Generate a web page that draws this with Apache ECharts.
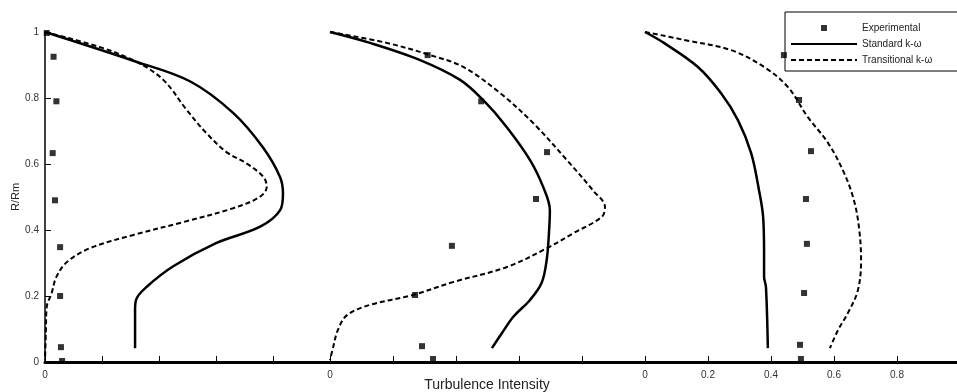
<!DOCTYPE html>
<html>
<head>
<meta charset="utf-8">
<script src="https://cdn.jsdelivr.net/npm/echarts@6/dist/echarts.min.js"></script>
<style>
  html, body { margin: 0; padding: 0; background: #fff; }
  #chart { width: 957px; height: 392px; }
</style>
</head>
<body>
<div id="chart"></div>
<script>
// Turbulence intensity profiles across R/Rm at three stations.
// Each point is [intensity, R/Rm].

const yTicks = [0, 0.2, 0.4, 0.6, 0.8, 1];

// Station 1
const exp1 = [[0.006, 0.997], [0.03, 0.925], [0.04, 0.79], [0.027, 0.633], [0.035, 0.49],
  [0.053, 0.348], [0.053, 0.2], [0.056, 0.045], [0.06, 0.003]];
const std1 = [[0, 1.0], [0.32, 0.91], [0.51, 0.85], [0.66, 0.755], [0.765, 0.65], [0.825, 0.56],
  [0.835, 0.51], [0.825, 0.46], [0.755, 0.41], [0.6, 0.36], [0.45, 0.29], [0.357, 0.228],
  [0.32, 0.19], [0.316, 0.158], [0.316, 0.042]];
const trn1 = [[0, 1.0], [0.19, 0.955], [0.32, 0.91], [0.415, 0.855], [0.497, 0.764], [0.567, 0.693],
  [0.637, 0.636], [0.707, 0.602], [0.767, 0.56], [0.778, 0.53], [0.753, 0.5], [0.66, 0.466],
  [0.485, 0.424], [0.31, 0.385], [0.158, 0.345], [0.077, 0.303], [0.04, 0.258], [0.023, 0.208],
  [0.006, 0.167], [0.003, 0.088], [0, 0.006]];

// Station 2
const exp2 = [[0.31, 0.93], [0.48, 0.79], [0.689, 0.636], [0.654, 0.494], [0.387, 0.352],
  [0.27, 0.203], [0.292, 0.048], [0.327, 0.009]];
const std2 = [[0, 1.0], [0.127, 0.967], [0.286, 0.915], [0.413, 0.855], [0.486, 0.794], [0.56, 0.713],
  [0.635, 0.612], [0.677, 0.53], [0.698, 0.46], [0.695, 0.39], [0.688, 0.31], [0.672, 0.24],
  [0.635, 0.188], [0.582, 0.137], [0.546, 0.088], [0.514, 0.042]];
const trn2 = [[0, 1.0], [0.18, 0.967], [0.318, 0.93], [0.423, 0.894], [0.54, 0.815], [0.645, 0.724],
  [0.752, 0.612], [0.835, 0.52], [0.873, 0.47], [0.863, 0.44], [0.772, 0.39], [0.689, 0.345],
  [0.562, 0.288], [0.39, 0.242], [0.263, 0.203], [0.127, 0.173], [0.054, 0.142], [0.025, 0.097],
  [0.01, 0.045], [0, 0.006]];

// Station 3
const exp3 = [[0.441, 0.93], [0.489, 0.794], [0.527, 0.639], [0.511, 0.494], [0.514, 0.358],
  [0.505, 0.209], [0.492, 0.052], [0.495, 0.009]];
const std3 = [[0, 1.0], [0.06, 0.967], [0.168, 0.894], [0.241, 0.815], [0.295, 0.733], [0.337, 0.633],
  [0.362, 0.52], [0.375, 0.44], [0.378, 0.33], [0.378, 0.258], [0.384, 0.227], [0.39, 0.042]];
const trn3 = [[0, 1.0], [0.124, 0.976], [0.273, 0.945], [0.378, 0.894], [0.454, 0.833], [0.517, 0.742],
  [0.581, 0.664], [0.632, 0.573], [0.663, 0.491], [0.679, 0.41], [0.686, 0.31], [0.676, 0.218],
  [0.644, 0.148], [0.613, 0.097], [0.587, 0.042]];

const names = ['Experimental', 'Standard k-\u03c9', 'Transitional k-\u03c9'];
const xTitle = 'Turbulence Intensity';
const panels = [
  { exp: exp1, std: std1, trn: trn1 },
  { exp: exp2, std: std2, trn: trn2 },
  { exp: exp3, std: std3, trn: trn3 }
];

const FONT = 'Liberation Sans, Arial, sans-serif';
const grids = [
  { left: 45, width: 285, top: 32, height: 330, outerBoundsMode: 'none', containLabel: false },
  { left: 330, width: 315, top: 32, height: 330, outerBoundsMode: 'none', containLabel: false },
  { left: 645, width: 315, top: 32, height: 330, outerBoundsMode: 'none', containLabel: false }
];

const xAxes = grids.map((g, i) => ({
  gridIndex: i,
  type: 'value',
  min: 0, max: 1, interval: 0.2,
  axisLine: { show: true, lineStyle: { color: '#000', width: 3 } },
  axisTick: { show: true, inside: true, length: 6, lineStyle: { color: '#000', width: 1 } },
  axisLabel: {
    fontFamily: FONT, fontSize: 10, color: '#333', margin: 8,
    formatter: v => {
      if (v === 0) return '0';
      if (i === 2 && v < 0.99) return String(+v.toFixed(1));
      return '';
    }
  },
  splitLine: { show: false }
}));

const yAxes = grids.map((g, i) => ({
  gridIndex: i,
  type: 'value',
  min: 0, max: 1, interval: 0.2,
  show: i === 0,
  name: i === 0 ? 'R/Rm' : '',
  nameLocation: 'middle',
  nameGap: 20,
  nameTextStyle: { fontFamily: FONT, fontSize: 11, color: '#222' },
  axisLine: { show: true, lineStyle: { color: '#000', width: 1.5 } },
  axisTick: { show: true, inside: true, length: 6, lineStyle: { color: '#000' } },
  axisLabel: {
    fontFamily: FONT, fontSize: 10, color: '#333', margin: 6,
    formatter: v => yTicks.some(t => Math.abs(t - v) < 1e-9) ? String(+v.toFixed(1)) : ''
  },
  splitLine: { show: false }
}));

const series = [];
panels.forEach((p, i) => {
  series.push({
    name: names[0], type: 'scatter', xAxisIndex: i, yAxisIndex: i,
    data: p.exp, symbol: 'rect', symbolSize: 6,
    itemStyle: { color: '#000' }, z: 5
  });
  series.push({
    name: names[1], type: 'line', xAxisIndex: i, yAxisIndex: i,
    data: p.std, smooth: 0.35, symbol: 'none',
    itemStyle: { color: '#000' },
    lineStyle: { color: '#000', width: 2.5, type: 'solid' }
  });
  series.push({
    name: names[2], type: 'line', xAxisIndex: i, yAxisIndex: i,
    data: p.trn, smooth: 0.35, symbol: 'none',
    itemStyle: { color: '#000' },
    lineStyle: { color: '#000', width: 2, type: [5, 3] }
  });
});

const chart = echarts.init(document.getElementById('chart'), null, { renderer: 'canvas' });
chart.setOption({
  backgroundColor: '#fff',
  animation: false,
  grid: grids,
  xAxis: xAxes,
  yAxis: yAxes,
  graphic: [{
    type: 'text', x: 487, y: 378,
    style: {
      text: xTitle, fontFamily: FONT, fontSize: 14, fill: '#222',
      align: 'center', verticalAlign: 'top'
    }
  }],
  legend: {
    orient: 'vertical',
    left: 785, top: 12,
    backgroundColor: '#fff',
    borderColor: '#000', borderWidth: 1,
    padding: [11, 30, 6, 5],
    itemGap: 6,
    itemWidth: 66, itemHeight: 6,
    textStyle: { fontFamily: FONT, fontSize: 10, color: '#222' },
    data: [
      { name: names[0], icon: 'path://M0,0H1V1H0Z' },
      { name: names[1], itemStyle: { opacity: 0 } },
      { name: names[2], itemStyle: { opacity: 0 } }
    ]
  },
  series: series
});
</script>
</body>
</html>
